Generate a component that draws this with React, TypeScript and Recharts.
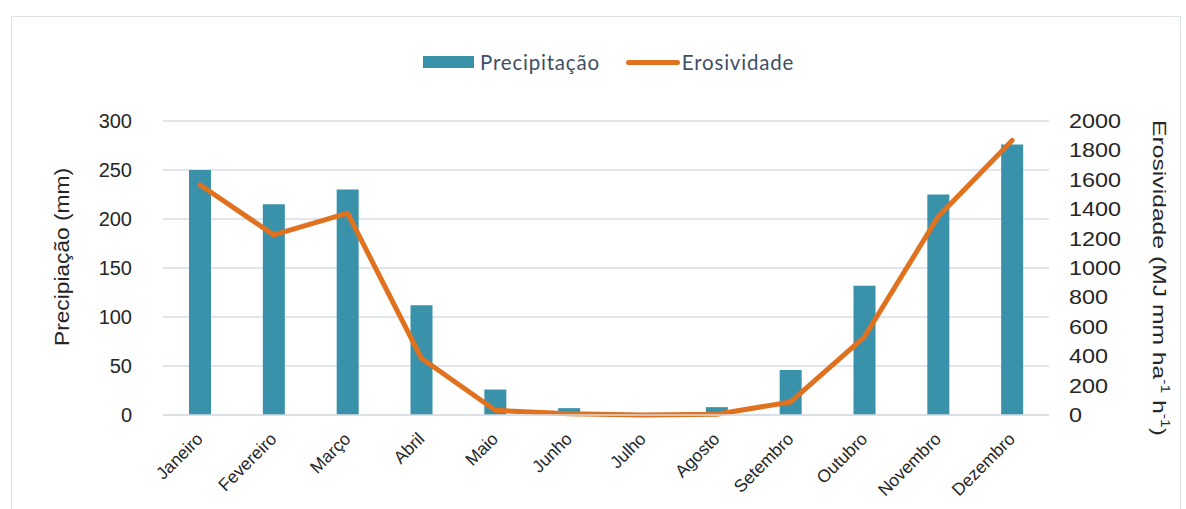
import React from 'react';
import { ComposedChart, Bar, Line, XAxis, YAxis, CartesianGrid, Legend, Label } from 'recharts';

const months = ['Janeiro', 'Fevereiro', 'Março', 'Abril', 'Maio', 'Junho', 'Julho', 'Agosto', 'Setembro', 'Outubro', 'Novembro', 'Dezembro'];
const precipitacao = [250, 215, 230, 112, 26, 7, 0, 8, 46, 132, 225, 276];
const erosividade = [1566, 1225, 1373, 386, 32, 9, 0, 5, 89, 532, 1350, 1868];
const leftTicks = [0, 50, 100, 150, 200, 250, 300];
const rightTicks = [0, 200, 400, 600, 800, 1000, 1200, 1400, 1600, 1800, 2000];

const data = months.map((m, i) => ({ mes: m, Precipitação: precipitacao[i], Erosividade: erosividade[i] }));

const BAR = '#3a91aa';
const LINE = '#e0711f';
const GRID = '#d9dee6';
const TXT = '#262626';
const FONT = '"Liberation Sans", Arial, sans-serif';

const LeftTick = (p: any) => (
  <text x={p.x} y={p.y} dy={7} textAnchor="end" fontSize={20} fontFamily={FONT} fill={TXT}>
    {p.payload.value}
  </text>
);

const RightTick = (p: any) => (
  <text x={p.x} y={p.y} dy={7} textAnchor="start" fontSize={20} fontFamily={FONT} fill={TXT} textLength={String(p.payload.value).length * 13} lengthAdjust="spacingAndGlyphs">
    {p.payload.value}
  </text>
);

const XTick = (p: any) => (
  <g transform={`translate(${p.x + 4},${p.y + 25}) rotate(-45)`}>
    <text x={0} y={0} textAnchor="end" fontSize={17.5} fontFamily={FONT} fill={TXT}>
      {p.payload.value}
    </text>
  </g>
);

const LegendContent = () => (
  <div style={{ display: 'flex', alignItems: 'center', fontFamily: 'Lato, "Open Sans", sans-serif', fontSize: 20.5, letterSpacing: 0.8, color: '#3f4f66', whiteSpace: 'nowrap', height: 22 }}>
    <span style={{ display: 'inline-block', width: 51, height: 12, background: BAR, marginRight: 6 }} />
    <span>Precipitação</span>
    <span style={{ display: 'inline-block', width: 54, height: 5, borderRadius: 3, background: LINE, marginLeft: 26, marginRight: 2 }} />
    <span>Erosividade</span>
  </div>
);

const LeftTitle = () => (
  <text transform="translate(69,257) rotate(-90)" textAnchor="middle" fontSize={20} fontFamily={FONT} fill={TXT} textLength={178} lengthAdjust="spacingAndGlyphs">
    Precipiação (mm)
  </text>
);

const RightTitle = () => (
  <text transform="translate(1153,278) rotate(90) scale(1.3,1)" textAnchor="middle" fontSize={19} fontFamily={FONT} fill={TXT}>
    <tspan>Erosividade (MJ mm ha</tspan>
    <tspan fontSize={12} dy={-8}>-1</tspan>
    <tspan dy={8}> h</tspan>
    <tspan fontSize={12} dy={-8}>-1</tspan>
    <tspan dy={8}>)</tspan>
  </text>
);

export default function App() {
  return (
    <div style={{ position: 'absolute', left: 0, top: 0, width: 1186, height: 509, background: '#fff', overflow: 'hidden' }}>
      <div style={{ position: 'absolute', left: 11, top: 16, width: 1170, height: 520, border: '1px solid #dce4ea', boxSizing: 'border-box' }} />
      <ComposedChart width={1186} height={509} data={data} margin={{ top: 121, right: 0, bottom: 0, left: 0 }}>
        <CartesianGrid yAxisId="left" horizontal vertical={false} stroke={GRID} strokeWidth={1.5} />
        <XAxis dataKey="mes" height={94} tickLine={false} axisLine={{ stroke: GRID, strokeWidth: 1.5 }} tick={<XTick />} tickSize={0} tickMargin={0} interval={0} />
        <YAxis yAxisId="left" orientation="left" width={163} domain={[0, 300]} ticks={leftTicks} tickLine={false} axisLine={false} tickSize={0} tickMargin={31} tick={<LeftTick />} interval={0}>
          <Label content={<LeftTitle />} />
        </YAxis>
        <YAxis yAxisId="right" orientation="right" width={137} domain={[0, 2000]} ticks={rightTicks} tickLine={false} axisLine={false} tickSize={0} tickMargin={20} tick={<RightTick />} interval={0}>
          <Label content={<RightTitle />} />
        </YAxis>
        <Legend content={<LegendContent />} verticalAlign="top" wrapperStyle={{ position: 'absolute', top: 51, left: 423, width: 'auto', height: 0, overflow: 'visible' }} />
        <Bar yAxisId="left" dataKey="Precipitação" fill={BAR} barSize={22} isAnimationActive={false} />
        <Line yAxisId="right" type="linear" dataKey="Erosividade" stroke={LINE} strokeWidth={5} dot={false} activeDot={false} strokeLinejoin="round" strokeLinecap="round" isAnimationActive={false} />
      </ComposedChart>
    </div>
  );
}
